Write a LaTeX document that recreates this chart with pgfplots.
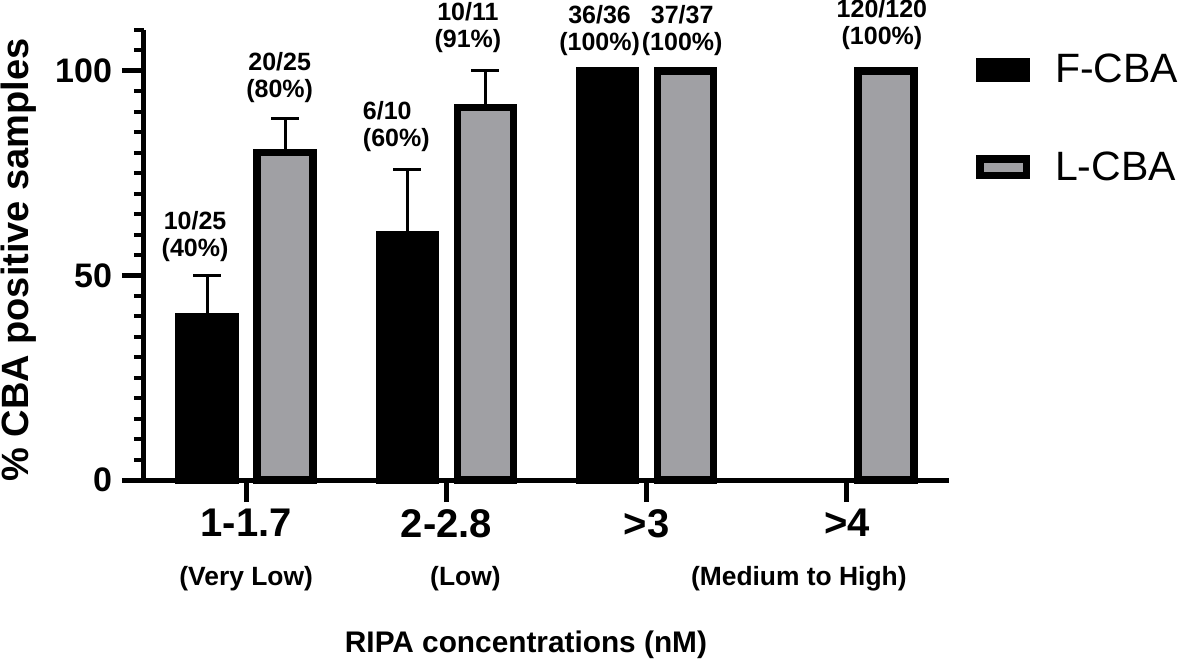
\documentclass[border=0pt]{standalone}
\usepackage{fontspec}
\setmainfont{Liberation Sans}
\usepackage{pgfplots}
\pgfplotsset{compat=1.18}
\definecolor{lgray}{RGB}{160,160,164}
\begin{document}
\begin{tikzpicture}
\useasboundingbox (-72pt,-90pt) rectangle (518.5pt,240pt);
\begin{axis}[
  at={(0pt,0pt)}, anchor=south west,
  scale only axis, width=402.5pt, height=225pt,
  xmin=-0.51, xmax=3.51, ymin=0, ymax=110,
  axis x line*=bottom, axis y line*=left,
  axis line style={line width=2.5pt},
  ybar, bar width=28pt,
  xtick={0,1,2,3}, xticklabels={1-1.7,2-2.8,>3,>4},
  ytick={0,50,100}, yticklabels={0,50,100},
  minor ytick={5,10,...,110},
  tick align=outside,
  major tick length=11pt, minor tick length=5pt,
  every tick/.style={black, line width=2.5pt},
  every minor tick/.style={black, line width=2pt},
  xticklabel style={font=\fontsize{20}{24}\selectfont\bfseries},
  yticklabel style={font=\fontsize{17}{20}\selectfont\bfseries, xshift=-1.5pt},
  /pgf/number format/assume math mode=true,
  ylabel={\% CBA positive samples},
  every axis y label/.style={at={(axis description cs:-0.1559,0.4889)}, rotate=90, anchor=center, font=\fontsize{19}{22}\selectfont\bfseries},
  xlabel={RIPA concentrations (nM)},
  every axis x label/.style={at={(axis description cs:0.4745,-0.3844)}, anchor=base, font=\fontsize{14.9}{17}\selectfont\bfseries},
  clip=false,
  legend style={at={(axis description cs:1,1)}, anchor=north west, xshift=13.5pt, yshift=-12pt,
    draw=none, fill=none, inner sep=0pt, outer sep=0pt, row sep=33pt, column sep=12.5pt,
    font=\fontsize{20.5}{24}\selectfont, nodes={inner sep=0pt}},
  legend cell align=left,
]
\addplot[fill=black, draw=black, line width=3.75pt, bar shift=-19.5pt,
  legend image code/.code={\draw[fill=black,draw=black,line width=3.75pt] (0pt,-4.125pt) rectangle (23.25pt,4.125pt);},
  error bars/.cd, y dir=plus, y explicit,
  error bar style={line width=1.5pt, black},
  error mark options={rotate=90, line width=1.5pt, mark size=7pt, black}]
  coordinates {(0,40) +- (0,10) (1,60) +- (0,16) (2,100) +- (0,0)};
\addlegendentry{F-CBA}
\addplot[fill=lgray, draw=black, line width=3.75pt, bar shift=19.5pt,
  legend image code/.code={\draw[fill=lgray,draw=black,line width=3.75pt] (0pt,-4.125pt) rectangle (23.25pt,4.125pt);},
  error bars/.cd, y dir=plus, y explicit,
  error bar style={line width=1.5pt, black},
  error mark options={rotate=90, line width=1.5pt, mark size=7pt, black}]
  coordinates {(0,80) +- (0,8.3) (1,91) +- (0,9) (2,100) +- (0,0) (3,100) +- (0,0)};
\addlegendentry{L-CBA}
\tikzset{ann/.style={font=\fontsize{12.5}{13.5}\selectfont\bfseries, align=center, anchor=south, inner sep=0pt}}
\node[ann] at (axis cs:-0.255,53.3) {10/25\\(40\%)};
\node[ann] at (axis cs:0.1675,92.2) {20/25\\(80\%)};
\node[ann, align=left] at (axis cs:0.75,80.2) {6/10\\(60\%)};
\node[ann] at (axis cs:1.1075,104.4) {10/11\\(91\%)};
\node[ann] at (axis cs:1.765,103.7) {36/36\\(100\%)};
\node[ann] at (axis cs:2.1775,103.7) {37/37\\(100\%)};
\node[ann] at (axis cs:3.175,105.1) {120/120\\(100\%)};
\tikzset{sub/.style={font=\fontsize{13.2}{15}\selectfont\bfseries, anchor=base, inner sep=0pt}}
\node[sub] at (axis cs:0,-25.7) {(Very Low)};
\node[sub] at (axis cs:1.095,-25.7) {(Low)};
\node[sub] at (axis cs:2.76,-25.7) {(Medium to High)};
\end{axis}
\end{tikzpicture}
\end{document}
